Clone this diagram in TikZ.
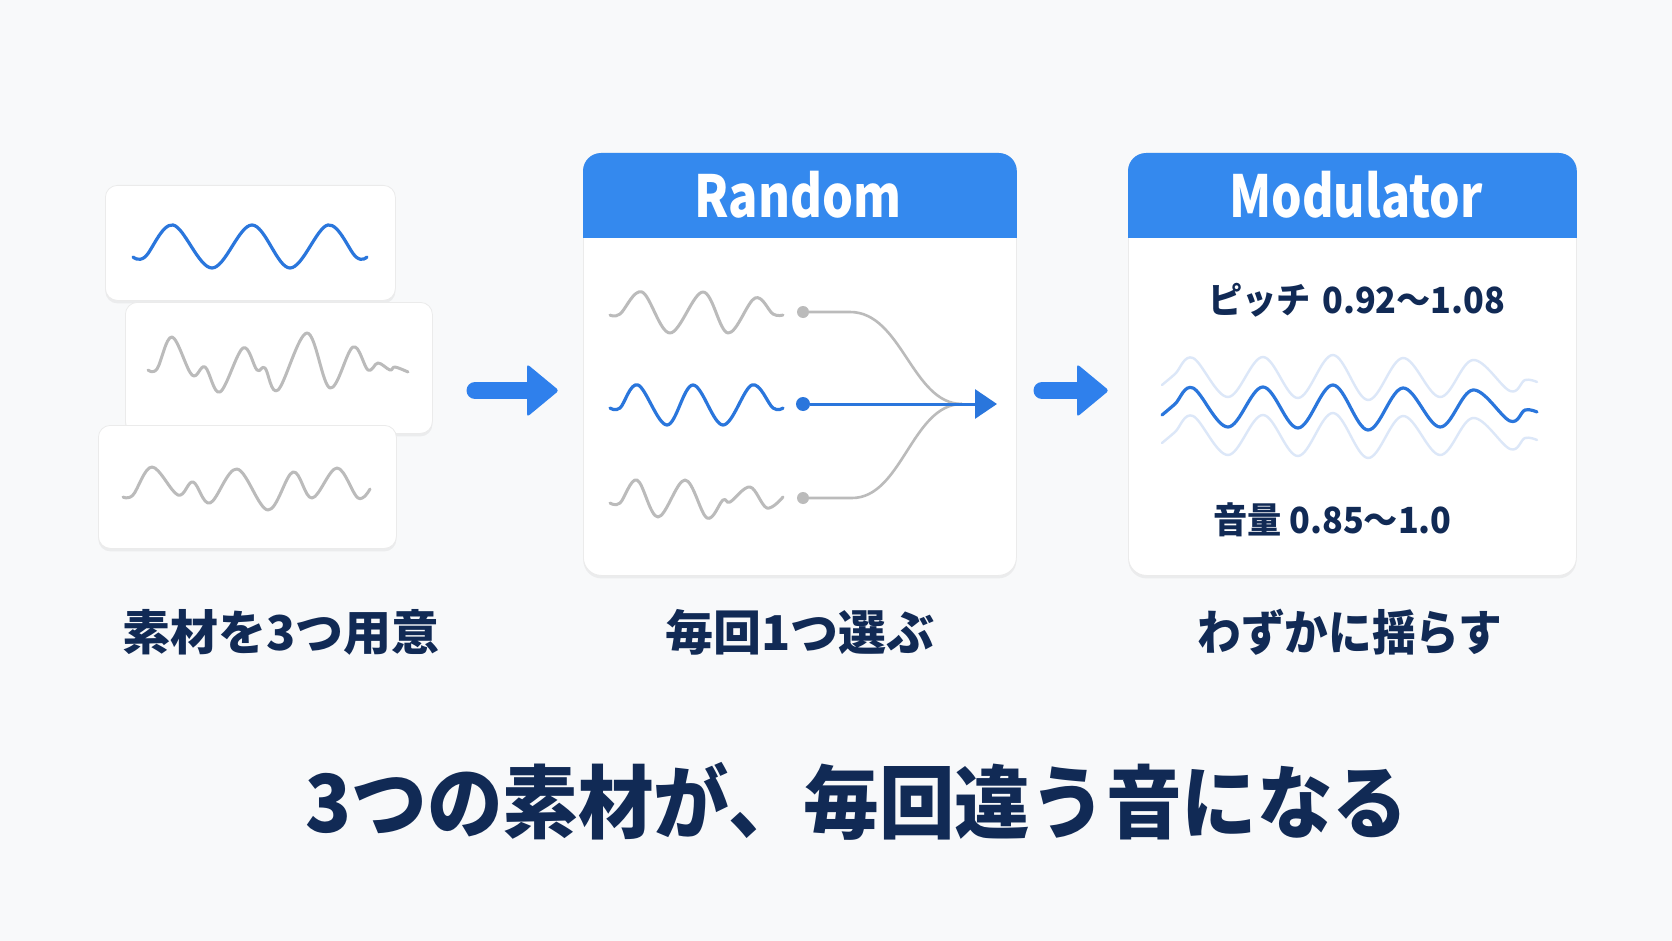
\documentclass[tikz,border=0pt]{standalone}
\usepackage{graphicx}
\usepackage{fontspec}
\setmainfont{Noto Sans CJK JP}
\usetikzlibrary{arrows.meta,shadows}
\definecolor{bg}{HTML}{F8F9FA}
\definecolor{hdr}{HTML}{3489EE}
\definecolor{wblue}{HTML}{2A76DC}
\definecolor{wgray}{HTML}{BBBBBB}
\definecolor{navy}{HTML}{112A55}
\definecolor{lblue}{HTML}{DCE7F8}
\definecolor{abl}{HTML}{2F80EC}
\begin{document}
\begin{tikzpicture}[x=1pt,y=-1pt,
  card/.style={draw=black!8, fill=white, rounded corners=12pt, line width=0.8pt,
    drop shadow={shadow xshift=0pt,shadow yshift=-3pt,opacity=0.10},
    inner sep=0pt, anchor=north west},
  bigbox/.style={card, rounded corners=18pt},
  wave/.style={line width=3.2pt, line cap=round, line join=round},
  lbl/.style={text=navy, font=\bfseries\fontsize{48}{56}\selectfont, inner sep=0pt},
  ttl/.style={text=navy, font=\bfseries\fontsize{80}{90}\selectfont, inner sep=0pt},
  htxt/.style={text=white, font=\bfseries\fontsize{58}{66}\selectfont, inner sep=0pt},
  mtxt/.style={text=navy, font=\bfseries\fontsize{36}{42}\selectfont, inner sep=0pt, anchor=west},
  dotg/.style={circle, fill=wgray, inner sep=0pt, minimum size=12pt},
  dotb/.style={circle, fill=wblue, inner sep=0pt, minimum size=14pt},
  fat/.style={abl, line width=17pt, line cap=round},
]
\useasboundingbox (0,0) rectangle (1672,941);
\fill[bg] (0,0) rectangle (1672,941);

% ---- stacked cards ----
\node[card, minimum width=290pt, minimum height=115pt] (c1) at (105,185) {};
\draw[wave, wblue] plot[smooth, tension=0.6] coordinates {(133,257) (145,257) (173,225) (212,268) (252,225) (290,268) (328,225) (356,257) (367,257)};
\node[card, minimum width=307pt, minimum height=131pt] (c2) at (125,302) {};
\draw[wave, wgray, line width=3pt] plot[smooth, tension=0.6] coordinates {(148,370) (157,369) (172,337) (192,375) (205,367) (220,392) (243,348) (257,370) (265,368) (278,390) (307,333) (330,388) (353,347) (368,370) (378,363) (390,370) (395,367) (408,372)};
\node[card, minimum width=298pt, minimum height=123pt] (c3) at (98,425) {};
\draw[wave, wgray, line width=3pt] plot[smooth, tension=0.6] coordinates {(123,497) (133,495) (152,467) (178,495) (193,482) (210,503) (237,469) (268,510) (293,472) (312,498) (337,468) (358,498) (370,489)};

% ---- Random box ----
\node[bigbox, minimum width=433pt, minimum height=422pt] (rnd) at (583,153) {};
\fill[hdr] ([yshift=-85pt]rnd.north west) [rounded corners=18pt] -- (rnd.north west) -- (rnd.north east) [sharp corners] -- ([yshift=-85pt]rnd.north east) -- cycle;
\node[htxt] (rt) at (798,195) {\scalebox{0.84}[1]{Random}};

\draw[wave, wgray, line width=3pt] plot[smooth, tension=0.6] coordinates {(610,315) (620,314) (642,292) (670,333) (703,292) (728,333) (755,298) (773,314) (783,315)};
\draw[wave, wblue] plot[smooth, tension=0.6] coordinates {(610,408) (620,408) (638,385) (667,425) (693,385) (723,425) (752,385) (773,408) (783,408)};
\draw[wave, wgray, line width=3pt] plot[smooth, tension=0.6] coordinates {(610,503) (620,503) (637,480) (658,517) (685,480) (707,518) (723,500) (730,502) (750,487) (767,508) (783,497)};

\node[dotg] (d1) at (803,312) {};
\node[dotb] (d2) at (803,404) {};
\node[dotg] (d3) at (803,498) {};
\coordinate (mrg) at (962,404);
\coordinate (rtip) at (997,404);
\draw[wgray, line width=2.6pt] (d1) -- (850,312) .. controls (902,312) and (912,404) .. (mrg);
\draw[wgray, line width=2.6pt] (d3) -- (852,498) .. controls (902,498) and (912,404) .. (mrg);
\draw[wblue, line width=3pt, -{Triangle[length=22pt,width=29pt]}] (d2) -- (rtip);

% ---- Modulator box ----
\node[bigbox, minimum width=448pt, minimum height=422pt] (mod) at (1128,153) {};
\fill[hdr] ([yshift=-85pt]mod.north west) [rounded corners=18pt] -- (mod.north west) -- (mod.north east) [sharp corners] -- ([yshift=-85pt]mod.north east) -- cycle;
\node[htxt] (mt) at (1356,195) {\scalebox{0.83}[1]{Modulator}};
\node[mtxt] (pt) at (1208,300) {\scalebox{0.95}[1]{ピッチ\hspace{12pt}0.92〜1.08}};
\draw[wave, lblue, line width=2.4pt, shift={(0,-30)}] plot[smooth, tension=0.6] coordinates {(1162,415) (1175,404) (1193,388) (1228,427) (1263,387) (1298,428) (1333,385) (1368,430) (1403,388) (1440,427) (1473,390) (1510,421) (1525,410) (1537,412)};
\draw[wave, lblue, line width=2.4pt, shift={(0,28)}] plot[smooth, tension=0.6] coordinates {(1162,415) (1175,404) (1193,388) (1228,427) (1263,387) (1298,428) (1333,385) (1368,430) (1403,388) (1440,427) (1473,390) (1510,421) (1525,410) (1537,412)};
\draw[wave, wblue] plot[smooth, tension=0.6] coordinates {(1162,415) (1175,404) (1193,388) (1228,427) (1263,387) (1298,428) (1333,385) (1368,430) (1403,388) (1440,427) (1473,390) (1510,421) (1525,410) (1537,412)};
\node[mtxt] (vol) at (1213,520) {\scalebox{0.95}[1]{音量 0.85〜1.0}};

% ---- fat arrows ----
\coordinate (a1s) at (475,390.5);
\coordinate (a1m) at (528,390.5);
\draw[fat] (a1s) -- (a1m);
\fill[abl, rounded corners=3pt] (527,364) -- (559,390.5) -- (527,417) -- cycle;
\coordinate (a2s) at (1042,390.5);
\coordinate (a2m) at (1078,390.5);
\draw[fat] (a2s) -- (a2m);
\fill[abl, rounded corners=3pt] (1077,364) -- (1109,390.5) -- (1077,417) -- cycle;

% ---- labels ----
\node[lbl] (l1) at (281,632) {素材を3つ用意};
\node[lbl] (l2) at (800,632) {毎回1つ選ぶ};
\node[lbl] (l3) at (1350,632) {\scalebox{0.91}[1]{わずかに揺らす}};
\node[ttl] (ttl) at (857,801) {\scalebox{0.945}[1]{3つの素材が、毎回違う音になる}};
\end{tikzpicture}
\end{document}
